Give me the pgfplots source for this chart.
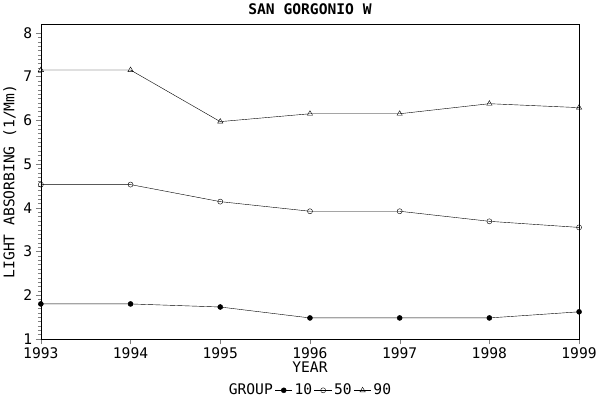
\documentclass[border=0pt]{standalone}
\usepackage{pgfplots}
\pgfplotsset{compat=1.18}
\usepackage{fontspec}
\setmainfont{DejaVu Sans Mono}
\begin{document}
\begin{tikzpicture}
\begin{axis}[
  width=530pt, height=310pt, scale only axis,
  xmin=1993, xmax=1999, ymin=1, ymax=8.2,
  xtick={1993,...,1999}, ytick={1,...,8},
  minor y tick num=9, minor x tick num=4,
  tick align=outside, tick pos=left,
  major tick length=5pt, minor tick length=3pt,
  xticklabel style={/pgf/number format/1000 sep=},
  /pgf/number format/assume math mode=true,
  ticklabel style={font=\Large},
  xlabel={YEAR}, ylabel={LIGHT ABSORBING (1/Mm)},
  label style={font=\Large}, xlabel style={yshift=4pt},
  title={\bfseries SAN GORGONIO W}, title style={font=\Large},
  legend style={at={(0.5,-0.13)}, anchor=north, draw=none, legend columns=-1, font=\Large},
  legend image post style={sharp plot},
]
\addlegendimage{empty legend}\addlegendentry{GROUP}
\addplot[black, mark=*, mark size=2.5pt] coordinates {(1993,1.8)(1994,1.8)(1995,1.73)(1996,1.48)(1997,1.48)(1998,1.48)(1999,1.62)};
\addlegendentry{10}
\addplot[black, mark=o, mark size=2.5pt] coordinates {(1993,4.53)(1994,4.53)(1995,4.14)(1996,3.92)(1997,3.92)(1998,3.69)(1999,3.55)};
\addlegendentry{50}
\addplot[black, mark=triangle, mark size=3pt] coordinates {(1993,7.15)(1994,7.15)(1995,5.97)(1996,6.15)(1997,6.15)(1998,6.38)(1999,6.29)};
\addlegendentry{90}
\end{axis}
\end{tikzpicture}
\end{document}
